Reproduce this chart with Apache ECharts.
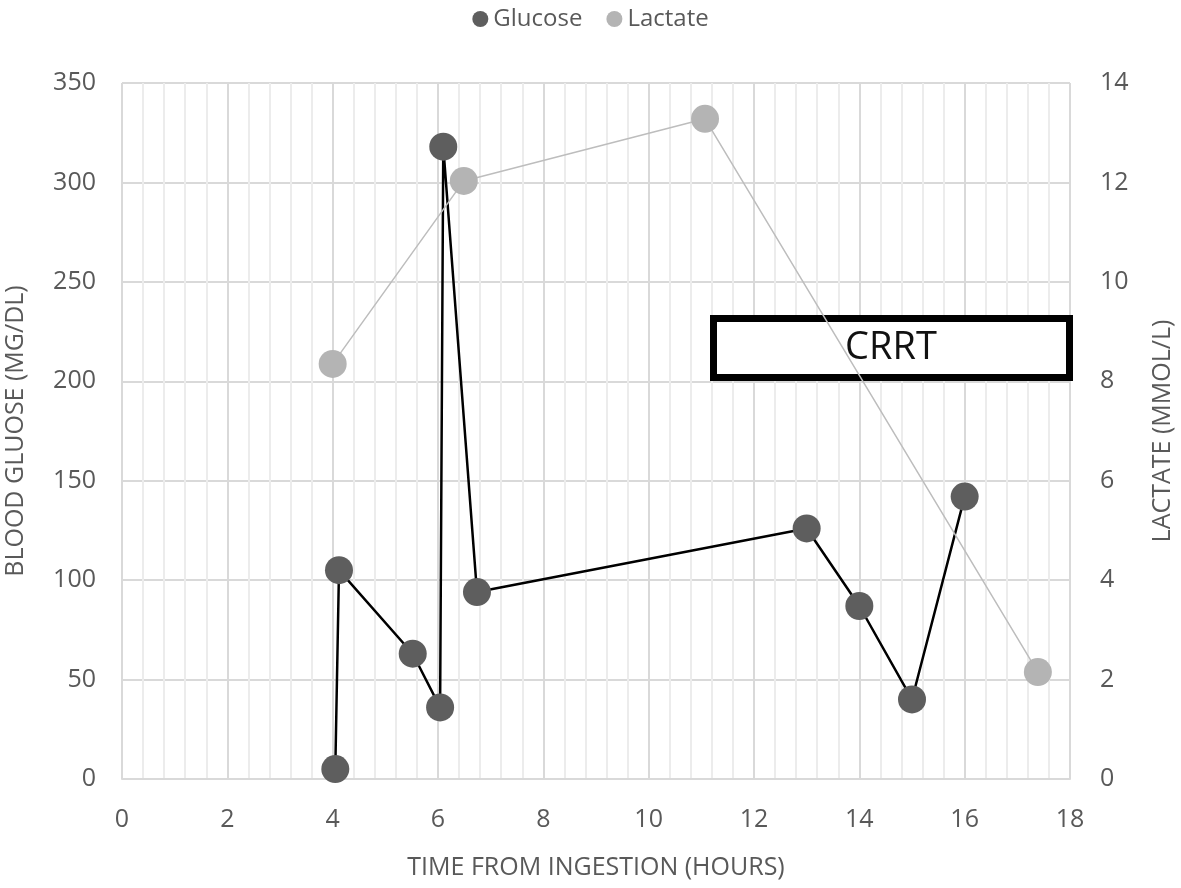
<!DOCTYPE html>
<html>
<head>
<meta charset="utf-8">
<script src="https://cdn.jsdelivr.net/npm/echarts@6/dist/echarts.min.js"></script>
<style>
  html, body { margin: 0; padding: 0; background: #fff; }
  #chart { width: 1181px; height: 888px; }
</style>
</head>
<body>
<div id="chart"></div>
<script>
// hours after ingestion
var glucoseHours = [4.05, 4.12, 5.52, 6.04, 6.1, 6.74, 13, 14, 15, 16];
var glucoseValues = [5, 105, 63, 36, 318, 94, 126, 87, 40, 142];
var lactateHours = [4, 6.49, 11.07, 17.39];
var lactateValues = [8.35, 12.03, 13.28, 2.15];

var FONT = "'Open Sans', 'DejaVu Sans', sans-serif";
var GREY = '#595959';

function pairs(xs, ys) {
    return xs.map(function (x, i) { return [x, ys[i]]; });
}

var chart = echarts.init(document.getElementById('chart'));
var option = {
    animation: false,
    textStyle: { fontFamily: FONT },
    legend: {
        top: 2,
        left: 'center',
        icon: 'circle',
        itemWidth: 16,
        itemHeight: 16,
        itemGap: 24,
        textStyle: { color: GREY, fontSize: 24, fontFamily: FONT },
        data: ['Glucose', 'Lactate']
    },
    grid: { left: 122, right: 111, top: 83, bottom: 109, outerBoundsMode: 'none' },
    xAxis: {
        type: 'value',
        min: 0,
        max: 18,
        interval: 2,
        name: 'TIME FROM INGESTION (HOURS)',
        nameLocation: 'middle',
        nameGap: 76,
        nameTextStyle: { color: GREY, fontSize: 25 },
        axisLine: { show: true, lineStyle: { color: '#d9d9d9', width: 2 } },
        axisTick: { show: false },
        axisLabel: { color: GREY, fontSize: 25, margin: 28 },
        splitLine: { show: true, lineStyle: { color: '#d9d9d9', width: 2 } },
        minorTick: { show: false, splitNumber: 5 },
        minorSplitLine: { show: true, lineStyle: { color: '#ececec', width: 2 } }
    },
    yAxis: [{
        type: 'value',
        min: 0,
        max: 350,
        interval: 50,
        name: 'BLOOD GLUOSE (MG/DL)',
        nameLocation: 'middle',
        nameGap: 94,
        nameTextStyle: { color: GREY, fontSize: 25 },
        axisLine: { show: false },
        axisTick: { show: false },
        axisLabel: { color: GREY, fontSize: 25, margin: 26 },
        splitLine: { show: true, lineStyle: { color: '#d9d9d9', width: 2 } }
    }, {
        type: 'value',
        min: 0,
        max: 14,
        interval: 2,
        position: 'right',
        name: 'LACTATE (MMOL/L)',
        nameLocation: 'middle',
        nameGap: 80,
        nameTextStyle: { color: GREY, fontSize: 25 },
        axisLine: { show: false },
        axisTick: { show: false },
        axisLabel: { color: GREY, fontSize: 25, margin: 30 },
        splitLine: { show: false }
    }],
    // CRRT annotation box, sits over the grid but under the lines
    graphic: [{
        type: 'rect',
        z: 2,
        shape: { x: 713.5, y: 318.5, width: 356, height: 59 },
        style: { fill: '#fff', stroke: '#000', lineWidth: 7 }
    }, {
        type: 'text',
        z: 2,
        x: 891,
        y: 348,
        style: {
            text: 'CRRT',
            fill: '#111',
            font: "38px " + FONT,
            textAlign: 'center',
            textVerticalAlign: 'middle'
        }
    }],
    series: [{
        name: 'Glucose',
        type: 'line',
        yAxisIndex: 0,
        data: pairs(glucoseHours, glucoseValues),
        symbol: 'circle',
        symbolSize: 28,
        itemStyle: { color: '#5e5e5e' },
        lineStyle: { color: '#000', width: 2.5 },
        z: 3
    }, {
        name: 'Lactate',
        type: 'line',
        yAxisIndex: 1,
        data: pairs(lactateHours, lactateValues),
        symbol: 'circle',
        symbolSize: 28,
        itemStyle: { color: '#b4b4b4' },
        lineStyle: { color: '#bdbdbd', width: 1.5 },
        z: 4
    }]
};
chart.setOption(option);
</script>
</body>
</html>
